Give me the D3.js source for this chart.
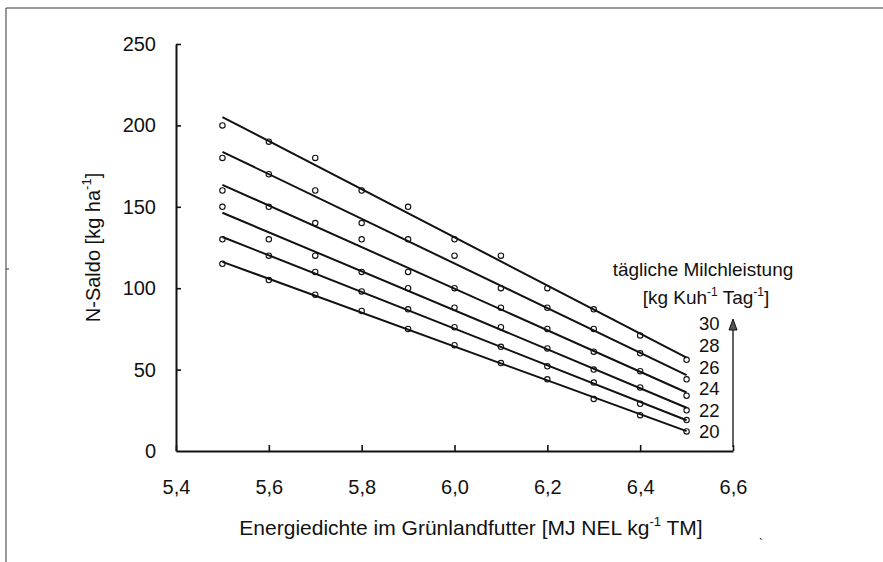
<!DOCTYPE html>
<html>
<head>
<meta charset="utf-8">
<script src="https://cdn.jsdelivr.net/npm/d3@7"></script>
<style>
  html, body { margin: 0; padding: 0; background: #fff; }
  svg text { font-family: "Liberation Sans", Arial, Helvetica, sans-serif; fill: #111; }
</style>
</head>
<body>
<svg id="chart" width="883" height="562"></svg>
<script>
// Energy density of grassland forage (MJ NEL / kg DM)
const energy = [5.5, 5.6, 5.7, 5.8, 5.9, 6.0, 6.1, 6.2, 6.3, 6.4, 6.5];

// Daily milk yield classes (kg per cow and day)
const milkYield = [20, 22, 24, 26, 28, 30];

// N balance (kg N / ha) per milk yield class
const nSaldo20 = [115, 105, 96, 86, 75, 65, 54, 44, 32, 22, 12];
const nSaldo22 = [130, 120, 110, 98, 87, 76, 64, 52, 42, 29, 19];
const nSaldo24 = [150, 130, 120, 110, 100, 88, 76, 63, 50, 39, 25];
const nSaldo26 = [160, 150, 140, 130, 110, 100, 88, 75, 61, 49, 34];
const nSaldo28 = [180, 170, 160, 140, 130, 120, 100, 88, 75, 60, 44];
const nSaldo30 = [200, 190, 180, 160, 150, 130, 120, 100, 87, 71, 56];

const seriesValues = [nSaldo20, nSaldo22, nSaldo24, nSaldo26, nSaldo28, nSaldo30];

// Axis ticks and their printed labels
const xTicks = [5.4, 5.6, 5.8, 6.0, 6.2, 6.4, 6.6];
const xTickLabels = ["5,4", "5,6", "5,8", "6,0", "6,2", "6,4", "6,6"];
const yTicks = [0, 50, 100, 150, 200, 250];
const yTickLabels = ["0", "50", "100", "150", "200", "250"];

const svg = d3.select("#chart");

// page frame (top and left rule)
svg.append("path")
  .attr("d", "M6,562 V8 H883")
  .attr("fill", "none")
  .attr("stroke", "#333")
  .attr("stroke-width", 1);
svg.append("line")
  .attr("x1", 6).attr("x2", 9).attr("y1", 269).attr("y2", 269)
  .attr("stroke", "#333").attr("stroke-width", 1);

const x = d3.scaleLinear().domain([5.4, 6.6]).range([176, 733]);
const y = d3.scaleLinear().domain([0, 250]).range([451, 44]);

// axes
const xAxis = d3.axisBottom(x)
  .tickValues(xTicks)
  .tickFormat((d, i) => xTickLabels[i])
  .tickSizeInner(-6)
  .tickSizeOuter(0)
  .tickPadding(29);

const yAxis = d3.axisLeft(y)
  .tickValues(yTicks)
  .tickFormat((d, i) => yTickLabels[i])
  .tickSizeInner(-5)
  .tickSizeOuter(0)
  .tickPadding(20);

const gx = svg.append("g").attr("transform", `translate(0,${y(0)})`).call(xAxis);
const gy = svg.append("g").attr("transform", `translate(${x(5.4)},0)`).call(yAxis);

[gx, gy].forEach(g => {
  g.select(".domain").attr("stroke", "#111").attr("stroke-width", 2);
  g.selectAll(".tick line").attr("stroke", "#111").attr("stroke-width", 1.6);
  g.selectAll(".tick text")
    .attr("font-size", 20)
    .attr("fill", "#111")
    .style("font-family", "'Liberation Sans', Arial, sans-serif");
});
gy.select(".tick:first-of-type line").remove();

// axis titles
const xTitle = svg.append("text")
  .attr("x", 471).attr("y", 535)
  .attr("text-anchor", "middle")
  .attr("font-size", 21);
xTitle.append("tspan").text("Energiedichte im Grünlandfutter [MJ NEL kg");
xTitle.append("tspan").attr("dy", -9).attr("font-size", 13).text("-1");
xTitle.append("tspan").attr("dy", 9).text(" TM]");

svg.append("text")
  .attr("x", 759).attr("y", 537)
  .attr("font-size", 12)
  .text("\u02CE");

const yTitle = svg.append("text")
  .attr("transform", `translate(100,${(y(0) + y(250)) / 2}) rotate(-90)`)
  .attr("text-anchor", "middle")
  .attr("font-size", 20);
yTitle.append("tspan").text("N-Saldo [kg ha");
yTitle.append("tspan").attr("dy", -9).attr("font-size", 13).text("-1");
yTitle.append("tspan").attr("dy", 9).text("]");

// least-squares line for one series
function fit(vals) {
  const mx = d3.mean(energy), my = d3.mean(vals);
  let sxy = 0, sxx = 0;
  energy.forEach((e, i) => { sxy += (e - mx) * (vals[i] - my); sxx += (e - mx) * (e - mx); });
  const b = sxy / sxx;
  return e => my + b * (e - mx);
}

const plot = svg.append("g");

seriesValues.forEach((vals, s) => {
  // data points
  plot.selectAll(null)
    .data(vals)
    .enter().append("circle")
    .attr("cx", (d, i) => x(energy[i]))
    .attr("cy", d => y(d))
    .attr("r", 2.7)
    .attr("fill", "none")
    .attr("stroke", "#111")
    .attr("stroke-width", 1.1);

  // regression line
  const f = fit(vals);
  const ends = [d3.min(energy), d3.max(energy)];
  plot.append("path")
    .datum(ends)
    .attr("d", d3.line().x(e => x(e)).y(e => y(f(e))))
    .attr("fill", "none")
    .attr("stroke", "#111")
    .attr("stroke-width", 2);
});

// legend: milk yield classes
svg.append("text")
  .attr("x", 703).attr("y", 276)
  .attr("text-anchor", "middle")
  .attr("font-size", 19)
  .text("tägliche Milchleistung");

const unit = svg.append("text")
  .attr("x", 706).attr("y", 304)
  .attr("text-anchor", "middle")
  .attr("font-size", 19);
unit.append("tspan").text("[kg Kuh");
unit.append("tspan").attr("dy", -8).attr("font-size", 12).text("-1");
unit.append("tspan").attr("dy", 8).text(" Tag");
unit.append("tspan").attr("dy", -8).attr("font-size", 12).text("-1");
unit.append("tspan").attr("dy", 8).text("]");

const legendY = d3.scalePoint()
  .domain(milkYield.slice().reverse())
  .range([324, 432]);

svg.selectAll(null)
  .data(milkYield)
  .enter().append("text")
  .attr("x", 699)
  .attr("y", d => legendY(d))
  .attr("dy", "0.35em")
  .attr("font-size", 18.5)
  .text(d => d);

// arrow pointing towards higher milk yield
svg.append("line")
  .attr("x1", 733).attr("x2", 733)
  .attr("y1", y(0) - 4).attr("y2", 328)
  .attr("stroke", "#111").attr("stroke-width", 1.3);
svg.append("path")
  .attr("d", "M733,319 L729,330 L737,330 Z")
  .attr("fill", "#555")
  .attr("stroke", "#111")
  .attr("stroke-width", 1);
</script>
</body>
</html>
